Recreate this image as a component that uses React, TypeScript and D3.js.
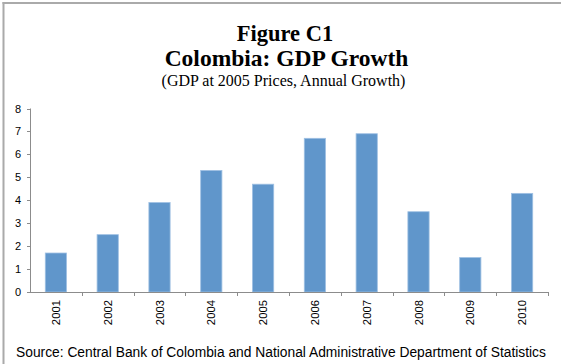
import React, { useEffect, useRef } from "react";
import * as d3 from "d3";

const years = ["2001", "2002", "2003", "2004", "2005", "2006", "2007", "2008", "2009", "2010"];
const growth = [1.7, 2.5, 3.9, 5.3, 4.7, 6.7, 6.9, 3.5, 1.5, 4.3];
const yTicks = [0, 1, 2, 3, 4, 5, 6, 7, 8];
const titleLines = ["Figure C1", "Colombia: GDP Growth"];
const subtitle = "(GDP at 2005 Prices, Annual Growth)";
const source = "Source: Central Bank of Colombia and National Administrative Department of Statistics";

export default function App() {
  const ref = useRef<SVGSVGElement>(null);
  useEffect(() => {
    const W = 561, H = 364;
    const svg = d3.select(ref.current);
    svg.selectAll("*").remove();
    const left = 30, right = 548, top = 108.5, bottom = 292;
    const x = d3.scaleBand().domain(years).range([left, right]).paddingInner(0.59).paddingOuter(0.295);
    const xb = d3.scaleBand().domain(years).range([left, right]);
    const y = d3.scaleLinear().domain([0, 8]).range([bottom, top]);

    svg.append("rect").attr("width", W).attr("height", H).attr("fill", "#fff");
    // frame
    svg.append("line").attr("x1", 3.5).attr("x2", 3.5).attr("y1", 2).attr("y2", H).attr("stroke", "#aaa").attr("stroke-width", 2);
    svg.append("line").attr("x1", 2.5).attr("x2", W).attr("y1", 3).attr("y2", 3).attr("stroke", "#aaa").attr("stroke-width", 2);

    const tf = "Liberation Serif, Times New Roman, serif";
    svg.append("text").attr("x", 285).attr("y", 40.5).attr("text-anchor", "middle")
      .attr("font-family", tf).attr("font-weight", "bold").attr("font-size", 22.5).text(titleLines[0]);
    svg.append("text").attr("x", 286.5).attr("y", 65.5).attr("text-anchor", "middle")
      .attr("font-family", tf).attr("font-weight", "bold").attr("font-size", 23.5).text(titleLines[1]);
    svg.append("text").attr("x", 283.5).attr("y", 86).attr("text-anchor", "middle")
      .attr("font-family", tf).attr("font-size", 16).text(subtitle);

    const sf = "Liberation Sans, Arial, sans-serif";
    // bars
    svg.append("g").selectAll("rect").data(years).join("rect")
      .attr("x", (d) => x(d)!)
      .attr("width", x.bandwidth())
      .attr("y", (d, i) => y(growth[i]))
      .attr("height", (d, i) => bottom - y(growth[i]))
      .attr("fill", "#6096CB")
      .attr("stroke", "#9fc0e3")
      .attr("stroke-width", 0.8);

    const ac = "#8c8c8c";
    // y axis
    svg.append("line").attr("x1", left + 0.5).attr("x2", left + 0.5).attr("y1", top).attr("y2", bottom).attr("stroke", ac);
    const yg = svg.append("g");
    yTicks.forEach((t) => {
      yg.append("line").attr("x1", left - 3).attr("x2", left + 0.5).attr("y1", Math.round(y(t)) + 0.5).attr("y2", Math.round(y(t)) + 0.5).attr("stroke", ac);
      yg.append("text").attr("x", 21).attr("y", y(t) + 4).attr("text-anchor", "end")
        .attr("font-family", sf).attr("font-size", 11).attr("fill", "#000").text(String(t));
    });
    // x axis
    svg.append("line").attr("x1", left).attr("x2", right).attr("y1", bottom + 0.5).attr("y2", bottom + 0.5).attr("stroke", ac);
    const xg = svg.append("g");
    years.forEach((yr) => {
      const bx = xb(yr)! + xb.bandwidth();
      xg.append("line").attr("x1", Math.round(bx) + 0.5).attr("x2", Math.round(bx) + 0.5).attr("y1", bottom).attr("y2", bottom + 4).attr("stroke", ac);
      const cx = xb(yr)! + xb.bandwidth() / 2 + 4;
      xg.append("text").attr("transform", `translate(${cx},${300}) rotate(-90)`).attr("text-anchor", "end")
        .attr("font-family", sf).attr("font-size", 11.3).text(yr);
    });

    svg.append("text").attr("x", 16).attr("y", 357).attr("font-family", sf).attr("font-size", 13.8).text(source);
  }, []);
  return <svg ref={ref} width={561} height={364} style={{ position: "fixed", left: 0, top: 0 }} />;
}
